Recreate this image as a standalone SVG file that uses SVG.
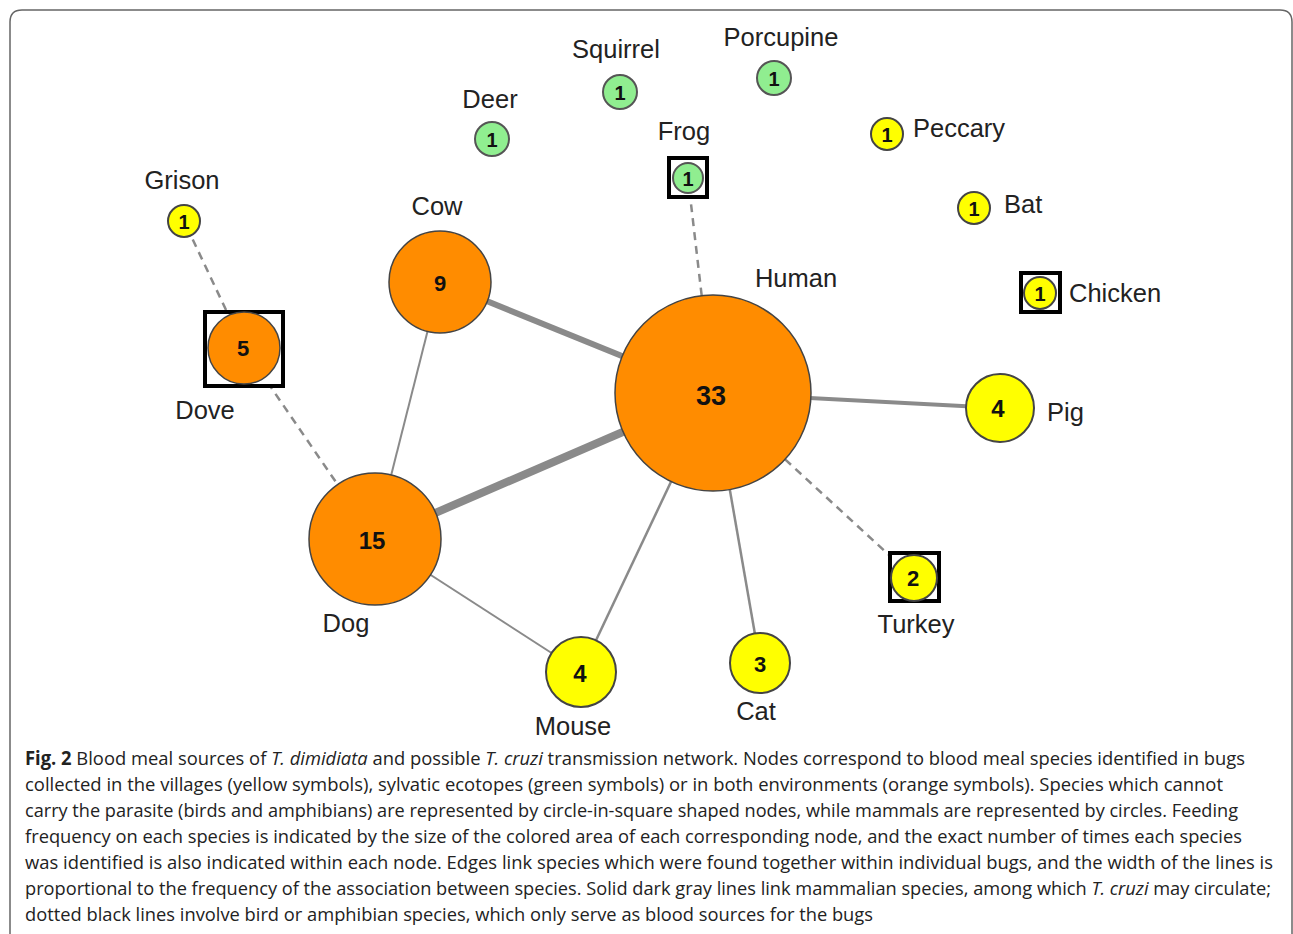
<svg xmlns="http://www.w3.org/2000/svg" width="1293" height="934" viewBox="0 0 1293 934">
<style>
.lbl{font-family:"Liberation Sans",Arial,sans-serif;font-size:25.5px;fill:#222}
.num{font-family:"Liberation Sans",Arial,sans-serif;font-weight:bold;fill:#111;text-anchor:middle;dominant-baseline:central}
.or{fill:#FF8C00;stroke:#444;stroke-width:1.5}
.ye{fill:#FFFF00;stroke:#444;stroke-width:2}
.gr{fill:#90EE90;stroke:#555;stroke-width:2}
.sq{fill:#fff;stroke:#000;stroke-width:4}
.e{stroke:#8a8a8a;fill:none}
.d{stroke:#8a8a8a;fill:none;stroke-width:2.5;stroke-dasharray:8 6}
.cap{font-family:"Open Sans","Liberation Sans",sans-serif;font-size:19px;fill:#222}
.it{font-style:italic}
</style>
<rect width="1293" height="934" fill="#fff"/>
<path d="M10,934 V22 Q10,10 22,10 H1280 Q1292,10 1292,22 V934" fill="none" stroke="#666" stroke-width="1.5"/>
<g id="connectors">
<line class="e" x1="440" y1="282" x2="713" y2="393" stroke-width="6"/>
<line class="e" x1="375" y1="539" x2="713" y2="393" stroke-width="8"/>
<line class="e" x1="713" y1="393" x2="1000" y2="408" stroke-width="4"/>
<line class="e" x1="713" y1="393" x2="581" y2="672" stroke-width="2.5"/>
<line class="e" x1="713" y1="393" x2="760" y2="663" stroke-width="2.5"/>
<line class="e" x1="375" y1="539" x2="440" y2="282" stroke-width="2"/>
<line class="e" x1="375" y1="539" x2="581" y2="672" stroke-width="2"/>
<line class="d" x1="713" y1="393" x2="914" y2="578"/>
<line class="d" x1="713" y1="393" x2="688" y2="178"/>
<line class="d" x1="375" y1="539" x2="244" y2="348"/>
<line class="d" x1="244" y1="348" x2="184" y2="221"/>
</g>
<g id="human"><circle class="or" cx="713" cy="393" r="98"/><text class="num" x="711" y="396" font-size="27">33</text><text class="lbl" x="796" y="287" text-anchor="middle">Human</text></g>
<g id="dog"><circle class="or" cx="375" cy="539" r="66"/><text class="num" x="372" y="540" font-size="24">15</text><text class="lbl" x="346" y="632" text-anchor="middle">Dog</text></g>
<g id="cow"><circle class="or" cx="440" cy="282" r="51"/><text class="num" x="440" y="283" font-size="22">9</text><text class="lbl" x="437" y="215" text-anchor="middle">Cow</text></g>
<g id="dove"><rect class="sq" x="205" y="312" width="78" height="74"/><circle class="or" cx="244" cy="348" r="36"/><text class="num" x="243" y="348" font-size="22">5</text><text class="lbl" x="205" y="419" text-anchor="middle">Dove</text></g>
<g id="grison"><circle class="ye" cx="184" cy="221" r="16"/><text class="num" x="184" y="222" font-size="20">1</text><text class="lbl" x="182" y="189" text-anchor="middle">Grison</text></g>
<g id="pig"><circle class="ye" cx="1000" cy="408" r="34"/><text class="num" x="998" y="408" font-size="24">4</text><text class="lbl" x="1047" y="421">Pig</text></g>
<g id="mouse"><circle class="ye" cx="581" cy="672" r="35"/><text class="num" x="580" y="673" font-size="24">4</text><text class="lbl" x="573" y="735" text-anchor="middle">Mouse</text></g>
<g id="cat"><circle class="ye" cx="760" cy="663" r="30"/><text class="num" x="760" y="664" font-size="22">3</text><text class="lbl" x="756" y="720" text-anchor="middle">Cat</text></g>
<g id="turkey"><rect class="sq" x="890" y="553" width="49" height="48"/><circle class="ye" cx="914" cy="578" r="23"/><text class="num" x="913" y="578" font-size="22">2</text><text class="lbl" x="916" y="633" text-anchor="middle">Turkey</text></g>
<g id="frog"><rect class="sq" x="669" y="158" width="38" height="39"/><circle class="gr" cx="688" cy="178" r="15"/><text class="num" x="688" y="179" font-size="20">1</text><text class="lbl" x="684" y="140" text-anchor="middle">Frog</text></g>
<g id="chicken"><rect class="sq" x="1021" y="273" width="39" height="39"/><circle class="ye" cx="1040" cy="293" r="16"/><text class="num" x="1040" y="294" font-size="20">1</text><text class="lbl" x="1069" y="302">Chicken</text></g>
<g id="bat"><circle class="ye" cx="974" cy="208" r="16"/><text class="num" x="974" y="209" font-size="20">1</text><text class="lbl" x="1004" y="213">Bat</text></g>
<g id="peccary"><circle class="ye" cx="887" cy="134" r="16"/><text class="num" x="887" y="135" font-size="20">1</text><text class="lbl" x="913" y="137">Peccary</text></g>
<g id="deer"><circle class="gr" cx="492" cy="139" r="17"/><text class="num" x="492" y="140" font-size="20">1</text><text class="lbl" x="490" y="108" text-anchor="middle">Deer</text></g>
<g id="squirrel"><circle class="gr" cx="620" cy="92" r="17"/><text class="num" x="620" y="93" font-size="20">1</text><text class="lbl" x="616" y="58" text-anchor="middle">Squirrel</text></g>
<g id="porcupine"><circle class="gr" cx="774" cy="78" r="17"/><text class="num" x="774" y="79" font-size="20">1</text><text class="lbl" x="781" y="46" text-anchor="middle">Porcupine</text></g>
<g id="caption">
<text class="cap" x="25" y="765" textLength="1220" lengthAdjust="spacingAndGlyphs"><tspan font-weight="bold">Fig. 2</tspan>  Blood meal sources of <tspan class="it">T. dimidiata</tspan> and possible <tspan class="it">T. cruzi</tspan> transmission network. Nodes correspond to blood meal species identified in bugs</text>
<text class="cap" x="25" y="791" textLength="1198" lengthAdjust="spacingAndGlyphs">collected in the villages (yellow symbols), sylvatic ecotopes (green symbols) or in both environments (orange symbols). Species which cannot</text>
<text class="cap" x="25" y="817" textLength="1213" lengthAdjust="spacingAndGlyphs">carry the parasite (birds and amphibians) are represented by circle-in-square shaped nodes, while mammals are represented by circles. Feeding</text>
<text class="cap" x="25" y="843" textLength="1217" lengthAdjust="spacingAndGlyphs">frequency on each species is indicated by the size of the colored area of each corresponding node, and the exact number of times each species</text>
<text class="cap" x="25" y="869" textLength="1248" lengthAdjust="spacingAndGlyphs">was identified is also indicated within each node. Edges link species which were found together within individual bugs, and the width of the lines is</text>
<text class="cap" x="25" y="895" textLength="1246" lengthAdjust="spacingAndGlyphs">proportional to the frequency of the association between species. Solid dark gray lines link mammalian species, among which <tspan class="it">T. cruzi</tspan> may circulate;</text>
<text class="cap" x="25" y="921" textLength="848" lengthAdjust="spacingAndGlyphs">dotted black lines involve bird or amphibian species, which only serve as blood sources for the bugs</text>
</g>
</svg>
